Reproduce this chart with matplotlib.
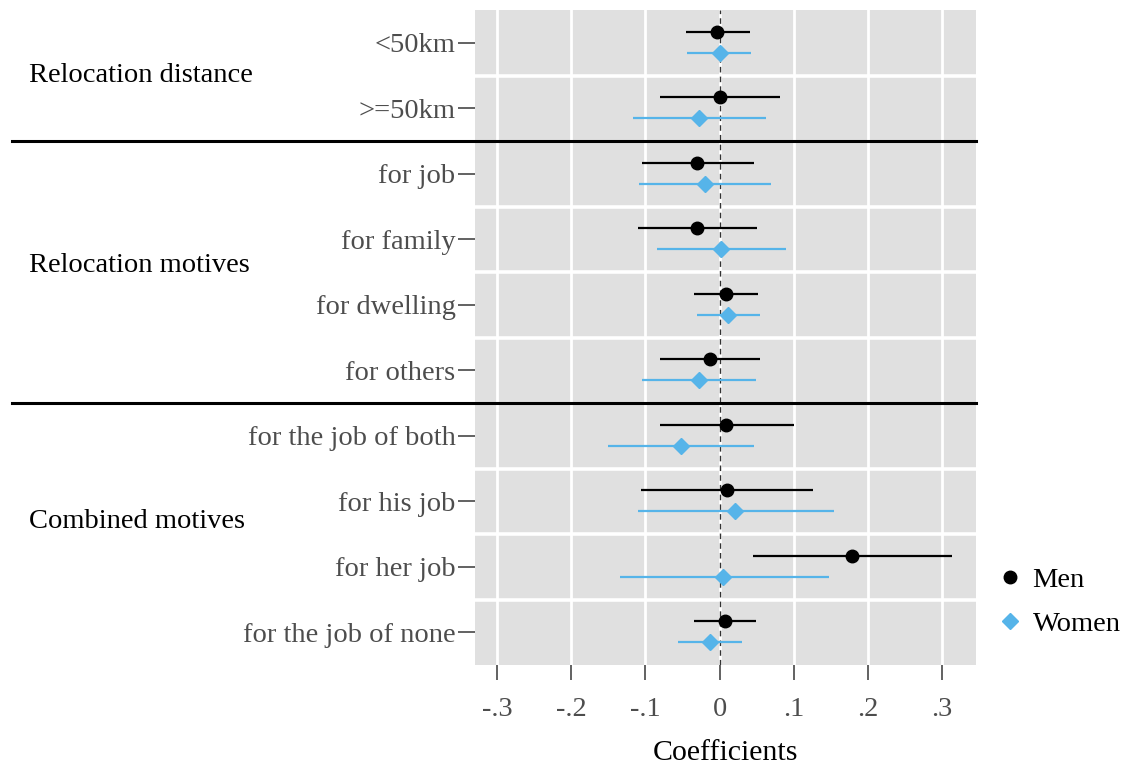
import matplotlib
matplotlib.use('Agg')
import matplotlib.pyplot as plt
import matplotlib.transforms as mtransforms
from matplotlib.lines import Line2D

# ---------------- data ----------------
categories = ["<50km", ">=50km", "for job", "for family", "for dwelling",
              "for others", "for the job of both", "for his job",
              "for her job", "for the job of none"]
men_coef = [-0.003, 0.000, -0.030, -0.031, 0.009, -0.013, 0.009, 0.010, 0.179, 0.007]
men_lo = [-0.045, -0.080, -0.104, -0.110, -0.034, -0.080, -0.081, -0.106, 0.045, -0.034]
men_hi = [0.041, 0.081, 0.046, 0.050, 0.052, 0.054, 0.100, 0.126, 0.313, 0.049]
women_coef = [0.000, -0.028, -0.020, 0.002, 0.012, -0.028, -0.052, 0.021, 0.005, -0.013]
women_lo = [-0.044, -0.117, -0.109, -0.084, -0.031, -0.104, -0.151, -0.110, -0.134, -0.056]
women_hi = [0.043, 0.062, 0.070, 0.089, 0.055, 0.049, 0.047, 0.155, 0.147, 0.030]
group_names = ["Relocation distance", "Relocation motives", "Combined motives"]
group_label_rows = [0.6, 3.5, 7.41]
separator_rows = [1.5, 5.5]
xticks = [-0.3, -0.2, -0.1, 0.0, 0.1, 0.2, 0.3]
xticklabels = ["-.3", "-.2", "-.1", "0", ".1", ".2", ".3"]
series_names = ["Men", "Women"]

men_color = "black"
women_color = "#56B4E9"

plt.rcParams['font.family'] = ['Liberation Serif', 'DejaVu Serif']

W, H = 1141, 765
fig = plt.figure(figsize=(W / 100, H / 100), dpi=100)
ax = fig.add_axes([475 / W, 1 - 665 / H, 501 / W, 655 / H])
ax.set_facecolor("#E0E0E0")
for s in ax.spines.values():
    s.set_visible(False)

n = len(categories)
ys = list(range(n))
ax.set_ylim(n - 0.5, -0.5)
ax.set_xlim(-0.330, 0.346)

# grid
for xt in xticks:
    ax.axvline(xt, color="white", lw=2.0, zorder=1)
for i in range(n - 1):
    b = i + 0.5
    if b not in separator_rows:
        ax.axhline(b, color="white", lw=2.6, zorder=1)

ax.axvline(0, color="#333333", lw=1.0, ls=(0, (4, 3)), zorder=2)

off_m, off_w = -0.17, 0.15
ym = [y + off_m for y in ys]
yw = [y + off_w for y in ys]
ax.hlines(ym, men_lo, men_hi, color=men_color, lw=1.6, zorder=3)
ax.hlines(yw, women_lo, women_hi, color=women_color, lw=1.6, zorder=3)
ax.plot(men_coef, ym, 'o', ms=9, color=men_color, ls='none', zorder=4)
ax.plot(women_coef, yw, 'D', ms=8, color=women_color, ls='none', zorder=4)

# separators extending into left margin
blend = mtransforms.blended_transform_factory(fig.transFigure, ax.transData)
for r in separator_rows:
    ax.plot([12 / W, 976 / W], [r, r], color="black", lw=2.2,
            transform=blend, clip_on=False, zorder=5)

# group labels
for name, r in zip(group_names, group_label_rows):
    ax.text(29 / W, r, name, transform=blend, fontsize=20.5, color="black",
            ha="left", va="baseline")

ax.set_yticks(ys)
ax.set_yticklabels(categories)
ax.set_xticks(xticks)
ax.set_xticklabels(xticklabels)
ax.tick_params(axis='y', length=12, width=1.3, color='#555555',
               labelcolor='#4D4D4D', labelsize=20.5, pad=2)
ax.tick_params(axis='x', length=11, width=1.3, color='#555555',
               labelcolor='#4D4D4D', labelsize=20.5, pad=12)
ax.set_xlabel("Coefficients", fontsize=21.5, color="black", labelpad=13)

handles = [Line2D([], [], marker='o', ms=9, color=men_color, ls='none'),
           Line2D([], [], marker='D', ms=8, color=women_color, ls='none')]
fig.legend(handles, series_names, loc='center left',
           bbox_to_anchor=(967 / W, 1 - 602 / H), frameon=False,
           fontsize=20.5, handletextpad=0.2, labelspacing=0.62,
           handlelength=1.2)

fig.savefig("out.png", dpi=100)
